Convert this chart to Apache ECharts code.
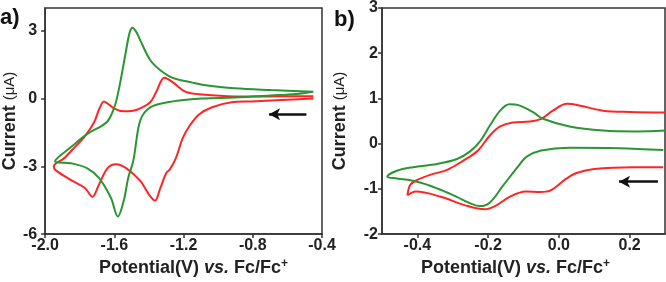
<!DOCTYPE html>
<html><head><meta charset="utf-8">
<script src="https://cdn.jsdelivr.net/npm/echarts@6/dist/echarts.min.js"></script>
<style>html,body{margin:0;padding:0;background:#fff}#c{width:666px;height:282px}</style>
</head><body><div id="c"></div>
<script>
// Panel a data: [potential V, current µA], in scan order
const greenA = [[-0.45,0.30],[-0.55,0.2],[-0.695,0.13],[-0.905,0.04],[-1.092,0.0],[-1.262,-0.13],[-1.376,-0.33],[-1.433,-0.70],[-1.46,-1.26],[-1.49,-2.74],[-1.52,-3.52],[-1.545,-4.5],[-1.58,-5.22],[-1.62,-4.39],[-1.688,-3.52],[-1.756,-3.09],[-1.847,-2.87],[-1.943,-2.78],[-1.847,-2.13],[-1.756,-1.57],[-1.643,-1.04],[-1.60,-0.39],[-1.574,0.4],[-1.535,2.0],[-1.512,2.9],[-1.495,3.13],[-1.47,2.9],[-1.45,2.57],[-1.393,1.70],[-1.336,1.26],[-1.262,0.91],[-1.149,0.70],[-1.092,0.61],[-0.905,0.45],[-0.695,0.37],[-0.45,0.30]];
const redA = [[-0.45,0.0],[-0.695,-0.09],[-0.808,-0.13],[-0.922,-0.17],[-1.035,-0.39],[-1.109,-0.70],[-1.166,-1.22],[-1.206,-1.78],[-1.245,-2.65],[-1.28,-3.15],[-1.30,-3.3],[-1.336,-4.0],[-1.365,-4.52],[-1.40,-4.25],[-1.45,-3.65],[-1.53,-3.09],[-1.59,-2.91],[-1.64,-3.09],[-1.69,-3.83],[-1.727,-4.35],[-1.77,-3.96],[-1.85,-3.61],[-1.94,-3.17],[-1.95,-3.0],[-1.89,-2.65],[-1.847,-2.30],[-1.773,-1.70],[-1.716,-1.04],[-1.688,-0.48],[-1.66,-0.13],[-1.643,-0.2],[-1.60,-0.45],[-1.546,-0.57],[-1.47,-0.5],[-1.393,-0.17],[-1.36,0.26],[-1.31,0.91],[-1.26,0.70],[-1.19,0.30],[-1.09,0.17],[-0.905,0.09],[-0.695,0.09],[-0.45,0.10]];
// Panel b data
const greenB = [[0.295,-0.14],[0.17,-0.10],[0.03,-0.09],[-0.05,-0.15],[-0.09,-0.28],[-0.11,-0.45],[-0.158,-0.93],[-0.195,-1.3],[-0.223,-1.38],[-0.25,-1.32],[-0.29,-1.17],[-0.316,-1.08],[-0.364,-0.93],[-0.412,-0.82],[-0.458,-0.77],[-0.485,-0.73],[-0.458,-0.60],[-0.412,-0.52],[-0.345,-0.45],[-0.288,-0.34],[-0.251,-0.17],[-0.223,0.05],[-0.195,0.40],[-0.166,0.73],[-0.14,0.87],[-0.11,0.84],[-0.07,0.68],[-0.045,0.55],[0.03,0.38],[0.125,0.29],[0.22,0.27],[0.3,0.29]];
const redB = [[0.295,-0.52],[0.21,-0.52],[0.1,-0.56],[0.05,-0.65],[0.02,-0.78],[-0.025,-1.04],[-0.053,-1.07],[-0.093,-1.06],[-0.138,-1.17],[-0.178,-1.37],[-0.209,-1.45],[-0.262,-1.37],[-0.336,-1.17],[-0.404,-1.06],[-0.428,-1.14],[-0.42,-0.91],[-0.40,-0.80],[-0.364,-0.69],[-0.316,-0.58],[-0.271,-0.38],[-0.231,-0.17],[-0.195,0.18],[-0.166,0.38],[-0.13,0.47],[-0.082,0.49],[-0.05,0.55],[-0.017,0.73],[0.023,0.88],[0.06,0.84],[0.125,0.73],[0.2,0.70],[0.3,0.69]];
// Ticks
const xTicksA = [-2.0,-1.6,-1.2,-0.8,-0.4];
const yTicksA = [-6,-3,0,3];
const xTicksB = [-0.4,-0.2,0.0,0.2];
const yTicksB = [-2,-1,0,1,2,3];
// Scan-direction arrows (start -> head)
const arrowA = [[-0.49,-0.70],[-0.706,-0.70]];
const arrowB = [[0.28,-0.84],[0.17,-0.84]];

const FONT = '"Liberation Sans", Arial, sans-serif';
const AX = '#333';
const GREEN = '#2a9632', RED = '#ff2525';

function xAxis(gi, min, max, ticks, padding){
  return {type:'value', gridIndex:gi, min:min, max:max,
    axisLine:{show:true, onZero:false, lineStyle:{color:AX, width:1.5}},
    axisTick:{show:true, length:4, customValues:ticks, lineStyle:{color:AX, width:1.5}},
    axisLabel:{customValues:ticks, margin:3, fontFamily:FONT, fontWeight:'bold', fontSize:16, color:'#222',
      formatter:v=>Number(v).toFixed(1)},
    splitLine:{show:false},
    name:'{n|Potential(V) }{i|vs.}{n| Fc/Fc}{s|+}', nameLocation:'middle', nameGap:16,
    nameTextStyle:{padding:padding, rich:{
      n:{fontFamily:FONT, fontWeight:'bold', fontSize:18, color:'#222'},
      i:{fontFamily:FONT, fontWeight:'bold', fontStyle:'italic', fontSize:18, color:'#222'},
      s:{fontFamily:FONT, fontWeight:'bold', fontSize:12, color:'#222', verticalAlign:'top', padding:[0,0,8,0]}}}
  };
}
function yAxis(gi, min, max, ticks, margin, gap){
  return {type:'value', gridIndex:gi, min:min, max:max,
    axisLine:{show:true, onZero:false, lineStyle:{color:AX, width:1.5}},
    axisTick:{show:true, length:4, customValues:ticks, lineStyle:{color:AX, width:1.5}},
    axisLabel:{customValues:ticks, margin:margin, fontFamily:FONT, fontWeight:'bold', fontSize:16, color:'#222'},
    splitLine:{show:false},
    name:'{n|Current }{u|(μA)}', nameLocation:'middle', nameGap:gap,
    nameTextStyle:{rich:{
      n:{fontFamily:FONT, fontWeight:'bold', fontSize:18, color:'#222'},
      u:{fontFamily:FONT, fontWeight:'normal', fontSize:15, color:'#222'}}}
  };
}
function arrowLine(a){
  return {silent:true, symbol:['none','arrow'], symbolSize:[9,11], label:{show:false},
    lineStyle:{color:'#111', width:2.5, type:'solid'}, emphasis:{disabled:true},
    data:[[{coord:a[0]},{coord:a[1]}]]};
}
function curve(data, color, xi, yi, ml){
  const s = {type:'line', data:data, xAxisIndex:xi, yAxisIndex:yi, showSymbol:false, smooth:0.35,
    lineStyle:{color:color, width:2}, itemStyle:{color:color}, silent:true};
  if (ml) s.markLine = ml;
  return s;
}

const chart = echarts.init(document.getElementById('c'), null, {renderer:'canvas'});
chart.setOption({
  animation:false,
  backgroundColor:'#fff',
  title:[
    {text:'a)', left:0, top:7, padding:0, textStyle:{fontFamily:FONT, fontWeight:'bold', fontSize:22, color:'#111'}},
    {text:'b)', left:334, top:9, padding:0, textStyle:{fontFamily:FONT, fontWeight:'bold', fontSize:22, color:'#111'}}
  ],
  grid:[
    {left:40, top:8, width:282, height:229, show:true, borderColor:AX, borderWidth:1.5, backgroundColor:'transparent'},
    {left:382, top:8, width:283, height:229, show:true, borderColor:AX, borderWidth:1.5, backgroundColor:'transparent'}
  ],
  xAxis:[ xAxis(0,-2.0,-0.4,xTicksA,[0,0,0,20]), xAxis(1,-0.5,0.3,xTicksB,[0,16,0,0]) ],
  yAxis:[ yAxis(0,-6,4,yTicksA,8,22), yAxis(1,-2,3,yTicksB,4,33) ],
  series:[
    curve(redA, RED, 0, 0),
    curve(greenA, GREEN, 0, 0, arrowLine(arrowA)),
    curve(redB, RED, 1, 1),
    curve(greenB, GREEN, 1, 1, arrowLine(arrowB))
  ]
});
</script></body></html>
